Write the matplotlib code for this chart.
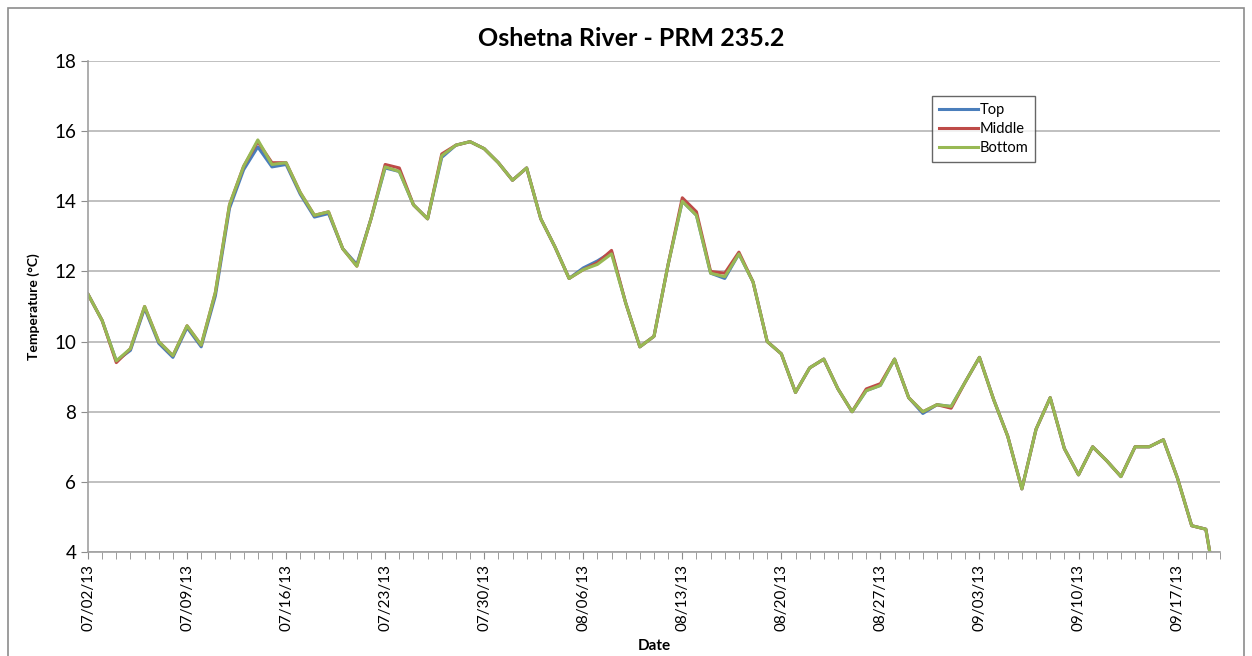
import matplotlib.pyplot as plt
import matplotlib.dates as mdates
from matplotlib.patches import Rectangle
import numpy as np
from datetime import datetime, timedelta

plt.rcParams['font.family'] = ['Lato', 'DejaVu Sans']

# dates: daily from 07/02/13
start = datetime(2013, 7, 2)
n_days = 81
dates = [start + timedelta(days=i) for i in range(n_days)]

# water temperature (deg C)
bottom = [11.35, 10.6, 9.45, 9.8, 11.0, 10.0, 9.6, 10.45, 9.9, 11.4,
          13.9, 15.0, 15.75, 15.05, 15.1, 14.25, 13.6, 13.7, 12.65, 12.15,
          13.5, 14.98, 14.85, 13.9, 13.5, 15.3, 15.6, 15.7, 15.5, 15.1,
          14.6, 14.95, 13.5, 12.7, 11.8, 12.05, 12.2, 12.5, 11.1, 9.85,
          10.15, 12.2, 14.0, 13.6, 11.95, 11.85, 12.5, 11.7, 10.0, 9.65,
          8.55, 9.25, 9.5, 8.65, 8.0, 8.6, 8.75, 9.5, 8.4, 8.0,
          8.2, 8.15, 8.85, 9.55, 8.35, 7.3, 5.8, 7.5, 8.4, 6.95,
          6.2, 7.0, 6.6, 6.15, 7.0, 7.0, 7.2, 6.1, 4.75, 4.65,
          2.3]
middle = [11.35, 10.6, 9.4, 9.8, 11.0, 10.0, 9.6, 10.45, 9.9, 11.4,
          13.9, 15.0, 15.7, 15.1, 15.1, 14.25, 13.6, 13.7, 12.65, 12.15,
          13.5, 15.05, 14.95, 13.9, 13.5, 15.35, 15.6, 15.7, 15.5, 15.1,
          14.6, 14.95, 13.5, 12.7, 11.8, 12.05, 12.25, 12.6, 11.1, 9.85,
          10.15, 12.2, 14.1, 13.7, 12.0, 11.95, 12.55, 11.7, 10.0, 9.65,
          8.55, 9.25, 9.5, 8.65, 8.0, 8.65, 8.8, 9.5, 8.4, 8.0,
          8.2, 8.1, 8.85, 9.55, 8.35, 7.3, 5.8, 7.5, 8.4, 6.95,
          6.2, 7.0, 6.6, 6.15, 7.0, 7.0, 7.2, 6.1, 4.75, 4.65,
          2.3]
top = [11.35, 10.6, 9.45, 9.75, 10.95, 9.95, 9.55, 10.4, 9.85, 11.3,
       13.8, 14.9, 15.55, 14.98, 15.05, 14.2, 13.55, 13.65, 12.65, 12.2,
       13.5, 14.95, 14.85, 13.9, 13.5, 15.25, 15.6, 15.7, 15.5, 15.1,
       14.6, 14.95, 13.5, 12.7, 11.8, 12.1, 12.3, 12.55, 11.1, 9.85,
       10.15, 12.2, 14.0, 13.6, 11.95, 11.8, 12.5, 11.7, 10.0, 9.65,
       8.55, 9.25, 9.5, 8.65, 8.0, 8.6, 8.75, 9.5, 8.4, 7.95,
       8.2, 8.15, 8.85, 9.55, 8.35, 7.3, 5.8, 7.5, 8.4, 6.95,
       6.2, 7.0, 6.6, 6.15, 7.0, 7.0, 7.2, 6.1, 4.75, 4.65,
       2.3]

fig = plt.figure(figsize=(12.52, 6.56), dpi=100)
ax = fig.add_axes([88 / 1252, 1 - 552 / 656, (1220 - 88) / 1252, (552 - 61) / 656])

# chart area border
fig.patches.append(Rectangle((8 / 1252, -0.01), (1244 - 8) / 1252, 1 - 8 / 656 + 0.01,
                             transform=fig.transFigure, fill=False,
                             edgecolor='#8c8c8c', linewidth=1.2))

ax.plot(dates, top, color='#4A7EBB', linewidth=2.2, label='Top')
ax.plot(dates, middle, color='#BE4B48', linewidth=2.2, label='Middle')
ax.plot(dates, bottom, color='#98B954', linewidth=2.2, label='Bottom')

ax.set_ylim(4, 18)
ax.set_yticks(np.arange(4, 19, 2))
ax.set_xlim(dates[0], dates[-1])
ax.set_xticks([dates[i] for i in range(0, n_days, 7)])
ax.set_xticks(dates, minor=True)
ax.xaxis.set_major_formatter(mdates.DateFormatter('%m/%d/%y'))
ax.tick_params(axis='x', which='both', direction='out', length=5, color='#8c8c8c',
               labelrotation=90, labelsize=11)
ax.tick_params(axis='y', direction='out', length=5, color='#8c8c8c', labelsize=13.5)

ax.grid(axis='y', color='#b5b5b5', linewidth=1.2)
ax.set_axisbelow(True)
for s in ['top', 'right']:
    ax.spines[s].set_visible(False)
for s in ['left', 'bottom']:
    ax.spines[s].set_color('#a0a0a0')
    ax.spines[s].set_linewidth(1.2)

# title centred on the whole chart, like Excel
fig.text(631 / 1252, 1 - 38 / 656, 'Oshetna River - PRM 235.2', fontsize=18,
         fontweight='bold', ha='center', va='center')
ax.set_xlabel('Date', fontsize=11, fontweight='bold', labelpad=6)
ax.set_ylabel('Temperature (\u00b0C)', fontsize=10, fontweight='bold', labelpad=10)

leg = ax.legend(loc='upper left', bbox_to_anchor=(0.7456, 0.928), fontsize=10.5,
                frameon=True, fancybox=False, handlelength=2.7, handletextpad=0.1,
                labelspacing=0.35, borderpad=0.45, borderaxespad=0)
leg.get_frame().set_edgecolor('#404040')
leg.get_frame().set_linewidth(1.0)

fig.savefig('out.png', dpi=100)
